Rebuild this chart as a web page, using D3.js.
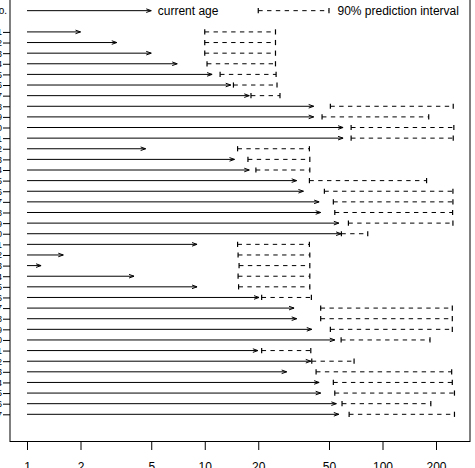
<!DOCTYPE html>
<html>
<head>
<meta charset="utf-8">
<script src="https://cdn.jsdelivr.net/npm/d3@7"></script>
<style>
  body { margin: 0; background: #fff; }
  svg { display: block; font-family: "Liberation Sans", Arial, sans-serif; }
</style>
</head>
<body>
<div id="chart"></div>
<script>
// values (ages, log scale)
const rowLabels = d3.range(1, 38).map(String);
const currentAge = [2.0, 3.2, 5.0, 7.0, 11.0, 14.0, 17.8, 41, 41, 60, 60,
    4.65, 14.7, 17.8, 32.9, 35.9, 44, 44.9, 56.8, 58.5, 9.05, 1.6, 1.2, 4.0, 9.05,
    20.2, 31.8, 32.9, 40, 53.9, 19.9, 39.5, 28.9, 44, 44.9, 55, 56.8];
const lowerPI = [10, 10, 10, 10.3, 12.2, 14.5, 18.2, 50.9, 45.7, 66.6, 66.6,
    15.3, 17.5, 19.4, 38.8, 47.1, 52.9, 53.9, 64.3, 58.7, 15.3, 15.4, 15.6, 15.4, 15.5,
    20.9, 44.9, 44.9, 50.9, 58.5, 20.9, 40, 42.3, 52.9, 53.9, 59.2, 64.9];
const upperPI = [25, 25, 25, 25, 25.2, 25.5, 26.5, 250, 182, 252, 250,
    38.8, 39, 39, 177, 249, 249, 248, 249, 82.6, 38.8, 39, 39, 39, 39,
    39.8, 247, 247, 247, 185, 39.5, 69.2, 245, 247, 254, 187, 254];
const xTicks = [1, 2, 5, 10, 20, 50, 100, 200];
const legendArrow = [1, 5];
const legendInterval = [20, 50];

const width = 475, height = 468;
const plot = {left: 10, right: 470, top: -5.9, bottom: 441.5};

let svg = d3.select("#chart").append("svg")
    .attr("width", width)
    .attr("height", height);

let xScale = d3.scaleLog()
    .domain([Math.pow(10, (10 - 27) / 177.75), Math.pow(10, (470 - 27) / 177.75)])
    .range([plot.left, plot.right]);

// row 0 = legend, row 1 blank, data rows from 2
let yScale = d3.scaleLinear()
    .domain([-1.56, 40.56])
    .range([plot.top, plot.bottom]);

let rows = currentAge.map((d, i) => ({
    label: rowLabels[i], age: d, lo: lowerPI[i], hi: upperPI[i], row: i + 2
}));

function arrowHead(g, x, y) {
    g.append("path")
        .attr("d", `M${x - 5},${y - 1.8}L${x},${y}L${x - 5},${y + 1.8}`)
        .attr("fill", "none").attr("stroke", "#000").attr("stroke-width", 1);
}

function drawArrow(g, from, to, y) {
    g.append("line")
        .attr("x1", xScale(from)).attr("x2", xScale(to))
        .attr("y1", y).attr("y2", y)
        .attr("stroke", "#000").attr("stroke-width", 1);
    arrowHead(g, xScale(to), y);
}

function drawInterval(g, lo, hi, y) {
    g.append("line")
        .attr("x1", xScale(lo)).attr("x2", xScale(hi))
        .attr("y1", y).attr("y2", y)
        .attr("stroke", "#000").attr("stroke-width", 1)
        .attr("stroke-dasharray", "4.4,4.4");
    [lo, hi].forEach(v => {
        g.append("line")
            .attr("x1", xScale(v)).attr("x2", xScale(v))
            .attr("y1", y - 2.6).attr("y2", y + 2.6)
            .attr("stroke", "#000").attr("stroke-width", 1.2);
    });
}

let marks = svg.append("g").attr("class", "marks");
rows.forEach(d => {
    let y = yScale(d.row);
    let g = marks.append("g");
    drawArrow(g, 1, d.age, y);
    drawInterval(g, d.lo, d.hi, y);
});

// legend row
let legend = svg.append("g").attr("class", "legend");
let ly = yScale(0);
drawArrow(legend, legendArrow[0], legendArrow[1], ly);
legend.append("text")
    .attr("x", xScale(legendArrow[1]) + 6.5).attr("y", ly + 4.3)
    .attr("font-size", 12).text("current age");
drawInterval(legend, legendInterval[0], legendInterval[1], ly);
legend.append("text")
    .attr("x", xScale(legendInterval[1]) + 8.5).attr("y", ly + 4.3)
    .attr("font-size", 12).text("90% prediction interval");
legend.append("text")
    .attr("x", 7).attr("y", ly + 3.5)
    .attr("text-anchor", "end").attr("font-size", 10).text("No.");

// box
svg.append("rect")
    .attr("x", plot.left).attr("y", plot.top)
    .attr("width", plot.right - plot.left).attr("height", plot.bottom - plot.top)
    .attr("fill", "none").attr("stroke", "#000").attr("stroke-width", 1);

// x axis
let axisx = d3.axisBottom(xScale)
    .tickValues(xTicks)
    .tickFormat(d3.format("d"))
    .tickSize(8.5)
    .tickPadding(12.5)
    .tickSizeOuter(0);
let xAxis = svg.append("g")
    .attr("transform", `translate(0,${plot.bottom})`)
    .call(axisx);
xAxis.select(".domain").remove();
xAxis.selectAll("text").attr("font-size", 12).attr("font-family", null).attr("fill", "#000");
xAxis.selectAll("line").attr("stroke", "#000");

// y axis (labels mostly clipped by the window edge)
let axisy = d3.axisLeft(yScale)
    .tickValues(rows.map(d => d.row))
    .tickFormat((v, i) => rows[i].label)
    .tickSize(7)
    .tickPadding(1)
    .tickSizeOuter(0);
let yAxis = svg.append("g")
    .attr("transform", `translate(${plot.left},0)`)
    .call(axisy);
yAxis.select(".domain").remove();
yAxis.selectAll("text").attr("font-size", 9).attr("font-family", null).attr("fill", "#000");
yAxis.selectAll("line").attr("stroke", "#000");
</script>
</body>
</html>
